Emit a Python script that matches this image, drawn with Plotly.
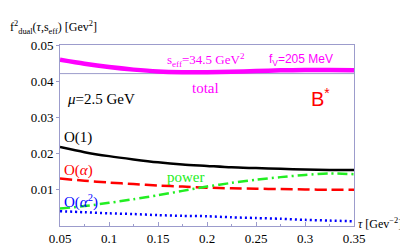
import plotly.graph_objects as go

tau = [0.05, 0.075, 0.1, 0.125, 0.15, 0.175, 0.2, 0.225, 0.25, 0.275, 0.3, 0.325, 0.35]
total = [0.0459, 0.0448, 0.0439, 0.0432, 0.0427, 0.0425, 0.0425, 0.0426, 0.0428, 0.0430, 0.0431, 0.0431, 0.0430]
o1 = [0.0218, 0.0204, 0.0193, 0.0184, 0.0176, 0.0170, 0.0166, 0.0162, 0.0160, 0.0158, 0.0156, 0.0155, 0.0155]
oa = [0.0131, 0.0125, 0.0120, 0.0116, 0.0112, 0.0109, 0.0106, 0.0104, 0.0103, 0.0102, 0.0101, 0.0100, 0.0100]
power = [0.0048, 0.0055, 0.0064, 0.0074, 0.0085, 0.0097, 0.0109, 0.0119, 0.0128, 0.0135, 0.0141, 0.0145, 0.0143]
oa2 = [0.0041, 0.0038, 0.0035, 0.0033, 0.0030, 0.0028, 0.0027, 0.0024, 0.0022, 0.0020, 0.0017, 0.0015, 0.0013]
cut_level = 0.0421

xticks = [0.05, 0.1, 0.15, 0.2, 0.25, 0.3, 0.35]
xticklabels = ["0.05", "0.1", "0.15", "0.2", "0.25", "0.3", "0.35"]
yticks = [0.01, 0.02, 0.03, 0.04, 0.05]
yticklabels = ["0.01", "0.02", "0.03", "0.04", "0.05"]

frame = "#9c9ccc"
serif = "Liberation Serif"
sans = "Liberation Sans"

fig = go.Figure()
fig.add_trace(go.Scatter(x=[tau[0], tau[-1]], y=[cut_level, cut_level], mode="lines",
                         line=dict(color=frame, width=1), hoverinfo="skip"))
fig.add_trace(go.Scatter(x=tau, y=total, mode="lines", line=dict(color="#ff00ff", width=4.5, shape="spline", smoothing=0.8)))
fig.add_trace(go.Scatter(x=tau, y=o1, mode="lines", line=dict(color="black", width=2.5, shape="spline", smoothing=0.8)))
fig.add_trace(go.Scatter(x=tau, y=oa, mode="lines", line=dict(color="#ff0000", width=2.5, shape="spline", smoothing=0.8, dash="12px,5px")))
fig.add_trace(go.Scatter(x=tau, y=power, mode="lines", line=dict(color="#22ee22", width=2.5, shape="spline", smoothing=0.8, dash="10px,4px,2px,4px")))
fig.add_trace(go.Scatter(x=tau, y=oa2, mode="lines", line=dict(color="#0000ff", width=2.5, shape="spline", smoothing=0.8, dash="2px,3px")))

def tx(px):
    return 0.05 + (px - 52) / 294 * 0.3

ann = [
    dict(x=tx(157), y=0.0459, text="s<sub>eff</sub>=34.5 GeV<sup>2</sup>", family=serif, size=13, color="#ff00ff"),
    dict(x=tx(259), y=0.0459, text="f<sub>V</sub>=205 MeV", family=sans, size=12, color="#ff00ff"),
    dict(x=tx(182), y=0.0382, text="total", family=serif, size=15, color="#ff00ff"),
    dict(x=tx(57), y=0.0352, text="<i>μ</i>=2.5 GeV", family=serif, size=15, color="black"),
    dict(x=tx(301), y=0.0356, text="B<sup>*</sup>", family=sans, size=20, color="#ff0000"),
    dict(x=tx(54), y=0.0245, text="O(1)", family=serif, size=15, color="black"),
    dict(x=tx(54), y=0.0153, text="O(<i>α</i>)", family=serif, size=15, color="#ff0000"),
    dict(x=tx(157), y=0.0136, text="power", family=serif, size=15, color="#22ee22"),
    dict(x=tx(54), y=0.0069, text="O(<i>α</i><sup>2</sup>)", family=serif, size=15, color="#0000ff"),
]
for a in ann:
    fig.add_annotation(xref="x", yref="y", x=a["x"], y=a["y"], xanchor="left", showarrow=False, text=a["text"],
                       font=dict(family=a["family"], size=a["size"], color=a["color"]))

fig.add_annotation(xref="paper", yref="paper", x=-52 / 294, y=(252 - 19 - 34) / 181, xanchor="left", yanchor="middle",
                   text="f<sup>2</sup><sub>dual</sub>(<i>τ</i>,s<sub>eff</sub>) [Gev<sup>2</sup>]", showarrow=False,
                   font=dict(family=serif, size=12, color="black"))
fig.add_annotation(xref="paper", yref="paper", x=(348 - 52) / 294, y=(252 - 215 - 34) / 181, xanchor="left", yanchor="middle",
                   text="<i>τ</i> [Gev<sup>−2</sup>]", showarrow=False,
                   font=dict(family=serif, size=12, color="black"))

fig.update_layout(
    width=408, height=252, margin=dict(l=52, r=62, t=37, b=34, autoexpand=False),
    paper_bgcolor="white", plot_bgcolor="white", showlegend=False,
    font=dict(family=serif, size=13, color="black"),
)
fig.update_xaxes(range=[0.05, 0.35], tickvals=xticks, ticktext=xticklabels, showgrid=False, zeroline=False,
                 showline=True, linecolor=frame, linewidth=1, mirror=True, ticks="inside", ticklen=4,
                 tickcolor=frame, minor=dict(ticks="inside", ticklen=2, dtick=0.025, tickcolor=frame, tick0=0.05),
                 tickfont=dict(family=serif, size=13, color="black"), automargin=False)
fig.update_yaxes(range=[0, 0.05], tickvals=yticks, ticktext=yticklabels, showgrid=False, zeroline=False,
                 showline=True, linecolor=frame, linewidth=1, mirror=True, ticks="outside", ticklen=3,
                 tickcolor=frame, tickfont=dict(family=serif, size=13, color="black"), automargin=False)

fig.write_html("out.html")
